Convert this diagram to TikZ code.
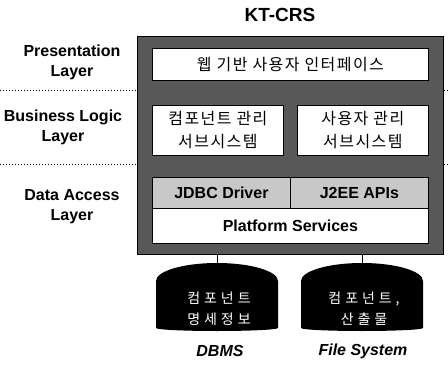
\documentclass[tikz,border=0pt]{standalone}
\usepackage{fontspec}
\setmainfont{Liberation Sans}
\newfontfamily\kr[LetterSpace=9]{Noto Sans CJK KR}
\newfontfamily\krdb[LetterSpace=28]{Noto Sans CJK KR}
\definecolor{shell}{RGB}{88,88,88}
\definecolor{driver}{RGB}{200,200,200}
\begin{document}
\begin{tikzpicture}[x=1pt,y=-1pt,
  lbl/.style={font=\fontsize{16}{20}\selectfont\bfseries, align=center, inner sep=0pt},
  krtext/.style={font=\fontsize{16}{23}\selectfont\kr, align=center, inner sep=0pt},
  shellbox/.style={draw=black, line width=1.2pt, fill=shell, anchor=north west, inner sep=0pt},
  panel/.style={draw=black, line width=0.8pt, fill=white, anchor=north west, inner sep=0pt},
  drvbox/.style={draw=black, line width=0.8pt, fill=driver, anchor=north west, inner sep=0pt},
  storage/.style={fill=black},
  dbtext/.style={font=\fontsize{14}{21}\selectfont\krdb, text=white, align=center, inner sep=0pt},
  sep/.style={dotted, line width=1pt},
  link/.style={line width=1pt}]
\useasboundingbox (0,0) rectangle (448,372);

% layer separators
\coordinate (s1l) at (0,90);   \coordinate (s1r) at (448,90);
\coordinate (s2l) at (0,164);  \coordinate (s2r) at (448,164);
\draw[sep] (s1l) -- (s1r);
\draw[sep] (s2l) -- (s2r);

% title
\node[lbl, font=\fontsize{19}{22}\selectfont\bfseries] (title) at (280,15) {KT-CRS};

% layer names
\node[lbl] (lp) at (72,62)  {Presentation\\Layer};
\node[lbl] (lb) at (63,127) {Business Logic\\Layer};
\node[lbl] (ld) at (72,207) {Data Access\\Layer};

% system shell
\node[shellbox, minimum width=306pt, minimum height=218pt] (sys) at (137,36) {};

% presentation
\node[panel, minimum width=276pt, minimum height=32pt] (ui) at (152,48) {};
\node[krtext] at (ui.center) {웹 기반 사용자 인터페이스};

% business logic
\node[panel, minimum width=131pt, minimum height=50pt] (comp) at (152,105) {};
\node[krtext] at (comp.center) {컴포넌트 관리\\서브시스템};
\node[panel, minimum width=131pt, minimum height=50pt] (user) at (297,105) {};
\node[krtext] at (user.center) {사용자 관리\\서브시스템};

% data access
\node[drvbox, minimum width=138pt, minimum height=31pt] (jdbc) at (152,177) {};
\node[lbl] at (jdbc.center) {JDBC Driver};
\node[drvbox, minimum width=138pt, minimum height=31pt] (j2ee) at (290,177) {};
\node[lbl] at (j2ee.center) {J2EE APIs};
\node[panel, minimum width=276pt, minimum height=35pt] (plat) at (152,208) {};
\node[lbl] at (plat.center) {Platform Services};

% storage
\coordinate (db) at (217,263);
\coordinate (fs) at (362,263);
\fill[storage] (156,328) -- (156,281)
  arc[start angle=180, end angle=0, x radius=61pt, y radius=18pt]
  -- (278,328) arc[start angle=0, end angle=-180, x radius=61pt, y radius=3pt] -- cycle;
\fill[storage] (301,328) -- (301,281)
  arc[start angle=180, end angle=0, x radius=61pt, y radius=18pt]
  -- (423,328) arc[start angle=0, end angle=-180, x radius=61pt, y radius=3pt] -- cycle;
\draw[link] (sys.south -| db) -- (db);
\draw[link] (sys.south -| fs) -- (fs);
\node[dbtext] (dbt) at (219,309) {컴포넌트\\명세정보};
\node[dbtext] (fst) at (364,309) {컴포넌트,\\산출물};

\node[lbl, font=\fontsize{16}{20}\selectfont\bfseries\itshape] (dbms) at (220,351) {DBMS};
\node[lbl, font=\fontsize{16}{20}\selectfont\bfseries\itshape] (fsys) at (363,351) {File System};
\end{tikzpicture}
\end{document}
